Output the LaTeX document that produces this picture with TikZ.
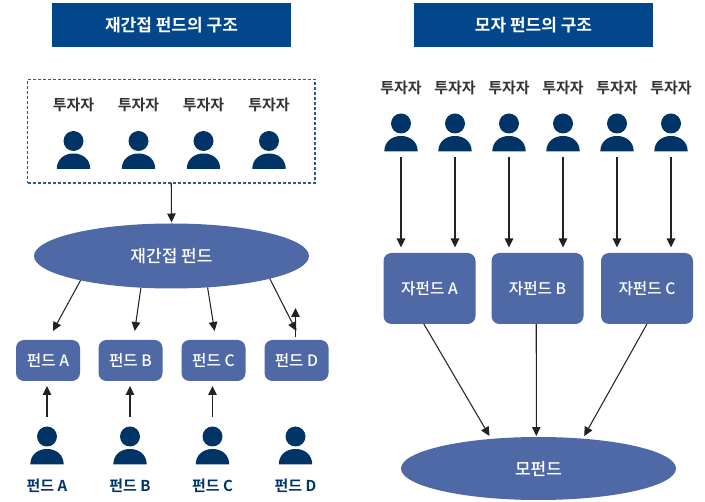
\documentclass[tikz,border=0pt]{standalone}
\usepackage{fontspec}
\setmainfont{Noto Sans CJK KR Medium}[BoldFont={Noto Sans CJK KR Bold}]
\usetikzlibrary{arrows.meta,shapes.geometric}
\definecolor{titleblue}{HTML}{03468C}
\definecolor{boxblue}{HTML}{4F69A6}
\definecolor{navy}{HTML}{003366}
\definecolor{ink}{HTML}{333333}
\definecolor{wire}{HTML}{222222}
\definecolor{dashblue}{HTML}{2A5A96}
\newcommand{\fs}[1]{\fontsize{#1}{#1}\selectfont}
\tikzset{
  x=1pt,y=-1pt,
  titlebox/.style={fill=titleblue,text=white,minimum width=239pt,minimum height=44pt,inner sep=0pt,outer sep=0pt,font=\fs{17}\bfseries},
  label/.style={text=ink,inner sep=0pt,font=\fs{15}\bfseries},
  fundlabel/.style={text=navy,inner sep=0pt,font=\fs{15}\bfseries},
  fundbox/.style={fill=boxblue,text=white,rounded corners=8pt,minimum width=64pt,minimum height=41pt,inner sep=0pt,outer sep=0pt,font=\fs{15.7}},
  subbox/.style={fill=boxblue,text=white,rounded corners=8pt,minimum width=92pt,minimum height=71pt,inner sep=0pt,outer sep=0pt,font=\fs{15.7}},
  blob/.style={ellipse,fill=boxblue,text=white,minimum width=275pt,inner sep=0pt,outer sep=0pt,font=\fs{17}},
  flow/.style={draw=wire,line width=1.05pt,-{Stealth[length=9pt,width=8.5pt,inset=0pt]}},
}
% \personfig{name}{x}{head y}: head, shoulders, and two named coordinates for connectors
\newcommand{\personfig}[3]{%
  \fill[navy] (#2,#3) circle[radius=10];
  \fill[navy] (#2-16.7,#3+28) .. controls (#2-16.7,#3+18) and (#2-9,#3+12.5) .. (#2,#3+12.5)
     .. controls (#2+9,#3+12.5) and (#2+16.7,#3+18) .. (#2+16.7,#3+28) -- cycle;
  \coordinate (#1top) at (#2,#3-19.5);
  \coordinate (#1foot) at (#2,#3+33.5);
}
\begin{document}
\begin{tikzpicture}
\useasboundingbox (0,0) rectangle (705,502);
% titles
\node[titlebox] (t1) at (171.5,25) {재간접 펀드의 구조};
\node[titlebox] (t2) at (533.5,25) {모자 펀드의 구조};
% left: investors
\node[draw=dashblue,line width=1.1pt,dash pattern=on 3pt off 2pt,minimum width=287.5pt,minimum height=103.5pt,inner sep=0pt,outer sep=0pt] (group) at (171.25,131.25) {};
\node[label] (l1) at (73.5,104.5) {투자자};
\node[label] (l2) at (138.5,104.5) {투자자};
\node[label] (l3) at (203.5,104.5) {투자자};
\node[label] (l4) at (269,104.5) {투자자};
\personfig{g1}{73.5}{141}
\personfig{g2}{138.5}{141}
\personfig{g3}{203.5}{141}
\personfig{g4}{269}{141}
% left: fund of funds
\node[blob,minimum height=65pt] (fof) at (171.5,256) {재간접 펀드};
\node[fundbox] (fa) at (48,360.5) {펀드 A};
\node[fundbox] (fb) at (130.5,360.5) {펀드 B};
\node[fundbox] (fc) at (213.5,360.5) {펀드 C};
\node[fundbox] (fd) at (296.5,360.5) {펀드 D};
\draw[flow,shorten >=1pt] (group.south) -- (fof.north);
\draw[flow,shorten >=10.2pt] (fof.195.4) -- (fa.north);
\draw[flow,shorten >=9.1pt] (fof.226.9) -- (fb.82.5);
\draw[flow,shorten >=9.1pt] (fof.319.3) -- (fc.83.6);
\draw[flow,shorten >=10.1pt] (fof.347.2) -- (fd.78.7);
\coordinate (fdup) at (295.5,308);
\draw[flow,shorten <=3pt] (fd.north -| fdup) -- (fdup);
% left: direct investors
\personfig{pa}{47}{436.5}
\personfig{pb}{130}{436.5}
\personfig{pc}{212.5}{436.5}
\personfig{pd}{295.5}{436.5}
\draw[flow,shorten >=5pt] (patop) -- (patop |- fa.south);
\draw[flow,shorten >=5pt] (pbtop) -- (pbtop |- fb.south);
\draw[flow,shorten >=5pt] (pctop) -- (pctop |- fc.south);
\node[fundlabel] (la) at (47,485.5) {펀드 A};
\node[fundlabel] (lb) at (130,485.5) {펀드 B};
\node[fundlabel] (lc) at (212.5,485.5) {펀드 C};
\node[fundlabel] (ld) at (295.5,485.5) {펀드 D};
% right: investors
\node[label] (r1) at (401,87.5) {투자자};
\node[label] (r2) at (455,87.5) {투자자};
\node[label] (r3) at (509,87.5) {투자자};
\node[label] (r4) at (563,87.5) {투자자};
\node[label] (r5) at (617,87.5) {투자자};
\node[label] (r6) at (671,87.5) {투자자};
\personfig{q1}{401}{123.5}
\personfig{q2}{455}{123.5}
\personfig{q3}{509}{123.5}
\personfig{q4}{563}{123.5}
\personfig{q5}{617}{123.5}
\personfig{q6}{671}{123.5}
% right: funds
\node[subbox] (sa) at (429.5,288.5) {자펀드 A};
\node[subbox] (sb) at (537.5,288.5) {자펀드 B};
\node[subbox] (sc) at (647,288.5) {자펀드 C};
\node[blob,minimum height=63pt] (mo) at (538.5,468.5) {모펀드};
\draw[flow,shorten >=5.5pt] (q1foot) -- (q1foot |- sa.north);
\draw[flow,shorten >=5.5pt] (q2foot) -- (q2foot |- sa.north);
\draw[flow,shorten >=5.5pt] (q3foot) -- (q3foot |- sb.north);
\draw[flow,shorten >=5.5pt] (q4foot) -- (q4foot |- sb.north);
\draw[flow,shorten >=5.5pt] (q5foot) -- (q5foot |- sc.north);
\draw[flow,shorten >=5.5pt] (q6foot) -- (q6foot |- sc.north);
\draw[flow,shorten >=3.4pt] (sa.261.2) -- (mo.148.3);
\draw[flow,shorten >=1pt] (sb.268.4) -- (mo.94.5);
\draw[flow,shorten >=3pt] (sc.south) -- (mo.34.1);
\end{tikzpicture}
\end{document}
